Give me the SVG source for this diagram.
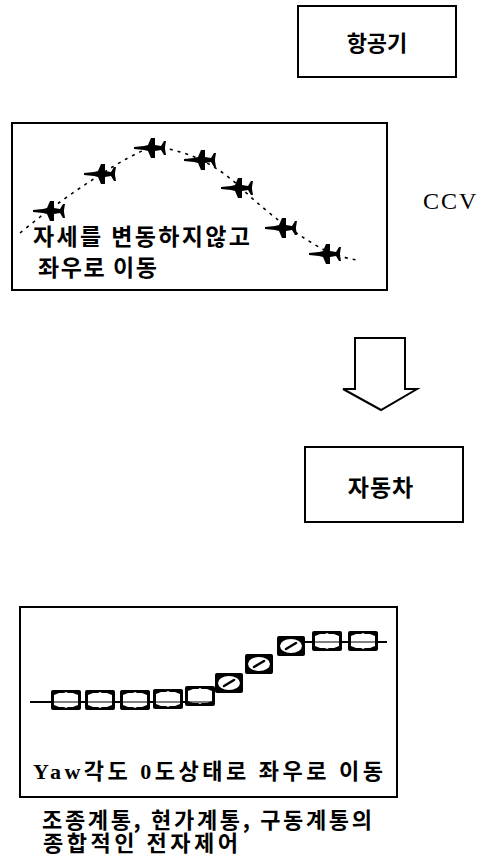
<svg xmlns="http://www.w3.org/2000/svg" xmlns:xlink="http://www.w3.org/1999/xlink" width="490" height="865" viewBox="0 0 490 865">
  <style>
    .frame { fill: #fff; stroke: #000; stroke-width: 2; }
    .ko { font-family: "Noto Sans CJK KR", "Noto Sans", sans-serif; fill: #000; font-weight: bold; }
    .kos { font-family: "Liberation Serif", "Noto Sans CJK KR", serif; fill: #000; font-weight: bold; }
    .lat { font-family: "Liberation Serif", "Times New Roman", serif; fill: #000; }
    .path-dot { fill: none; stroke: #000; stroke-width: 1.6; stroke-dasharray: 3 5; }
    .track { fill: none; stroke: #000; stroke-width: 1.8; }
  </style>
  <defs>
    <!-- jet, plan view, nose to the left -->
    <path id="jet" d="M-18,-1 L-8,-2 L-4,-3 L-1,-10 L3,-10 L3,-3 L9,-2 L12,-7 L14,-7 L13,-1 L13,1 L14,7 L12,7 L9,2 L3,3 L3,10 L-1,10 L-4,3 L-8,2 L-18,1 Z" fill="#000"/>
    <!-- car, plan view, heading straight -->
    <g id="car">
      <rect x="-15" y="-10" width="30" height="20" rx="2" fill="#000"/>
      <path d="M-12,-5 L-7,-7 L-2,-7 L0,-8 L2,-7 L7,-7 L12,-5 L12,5 L7,7 L2,7 L0,8 L-2,7 L-7,7 L-12,5 Z" fill="#fff"/>
    </g>
    <!-- car, plan view, sliding sideways -->
    <g id="carSlide">
      <rect x="-14" y="-10" width="28" height="20" rx="2" fill="#000"/>
      <ellipse cx="0" cy="0" rx="11" ry="7" fill="#fff"/>
      <line x1="-5" y1="3" x2="5" y2="-3" stroke="#000" stroke-width="2.5" stroke-linecap="round"/>
    </g>
  </defs>

  <rect width="490" height="865" fill="#fff"/>

  <!-- aircraft label -->
  <g id="aircraft">
    <rect class="frame" x="298" y="6" width="158" height="71"/>
    <text class="ko" x="377" y="51" font-size="22" text-anchor="middle">항공기</text>
  </g>

  <!-- aircraft: lateral move without attitude change -->
  <g id="aircraft-motion">
    <rect class="frame" x="12" y="123" width="375" height="167"/>
    <path class="path-dot" d="M20,233 Q60,200 100,175 Q130,155 152,147 Q200,150 240,187 Q285,230 330,253 Q345,258 357,260"/>
    <use xlink:href="#jet" x="51" y="211"/>
    <use xlink:href="#jet" x="102" y="174"/>
    <use xlink:href="#jet" x="152" y="148"/>
    <use xlink:href="#jet" x="202" y="160"/>
    <use xlink:href="#jet" x="239" y="188"/>
    <use xlink:href="#jet" x="283" y="228"/>
    <use xlink:href="#jet" x="327" y="254"/>
    <text class="ko" font-size="23">
      <tspan x="33" y="245" textLength="217" lengthAdjust="spacing">자세를 변동하지않고</tspan>
      <tspan x="38" y="276" textLength="119" lengthAdjust="spacing">좌우로 이동</tspan>
    </text>
  </g>

  <g id="ccv">
    <text class="lat" x="423" y="209" font-size="24" letter-spacing="2">CCV</text>
  </g>

  <!-- block arrow between the two rows -->
  <g id="connectors">
    <path d="M355,338 L405,338 L405,389 L417,389 L381,410 L343,389 L355,389 Z" fill="#fff" stroke="#000" stroke-width="2" stroke-linejoin="miter"/>
  </g>

  <!-- car label -->
  <g id="car-label">
    <rect class="frame" x="305" y="447" width="158" height="75"/>
    <text class="ko" x="381" y="496" font-size="23" text-anchor="middle" letter-spacing="1">자동차</text>
  </g>

  <!-- car: lateral move at zero yaw -->
  <g id="car-motion">
    <rect class="frame" x="20" y="607" width="377" height="190"/>
    <line class="track" x1="30" y1="702" x2="213" y2="702"/>
    <line class="track" x1="277" y1="642" x2="387" y2="642"/>
    <use xlink:href="#car" x="66" y="700"/>
    <use xlink:href="#car" x="100" y="700"/>
    <use xlink:href="#car" x="135" y="700"/>
    <use xlink:href="#car" x="168" y="699"/>
    <use xlink:href="#car" x="200" y="696"/>
    <use xlink:href="#carSlide" x="229" y="683"/>
    <use xlink:href="#carSlide" x="259" y="664"/>
    <use xlink:href="#carSlide" x="291" y="646"/>
    <use xlink:href="#car" x="327" y="641"/>
    <use xlink:href="#car" x="363" y="641"/>
    <line x1="30" y1="702" x2="213" y2="702" stroke="#000" stroke-width="1.2"/>
    <line x1="312" y1="642" x2="387" y2="642" stroke="#000" stroke-width="1.2"/>
    <text class="kos" x="33" y="779" font-size="22" textLength="350" lengthAdjust="spacing">Yaw각도 0도상태로 좌우로 이동</text>
  </g>

  <g id="caption">
    <text class="ko" font-size="22">
      <tspan x="42" y="828" textLength="330" lengthAdjust="spacing">조종계통, 현가계통, 구동계통의</tspan>
      <tspan x="43" y="851" textLength="195" lengthAdjust="spacing">종합적인 전자제어</tspan>
    </text>
  </g>
</svg>
